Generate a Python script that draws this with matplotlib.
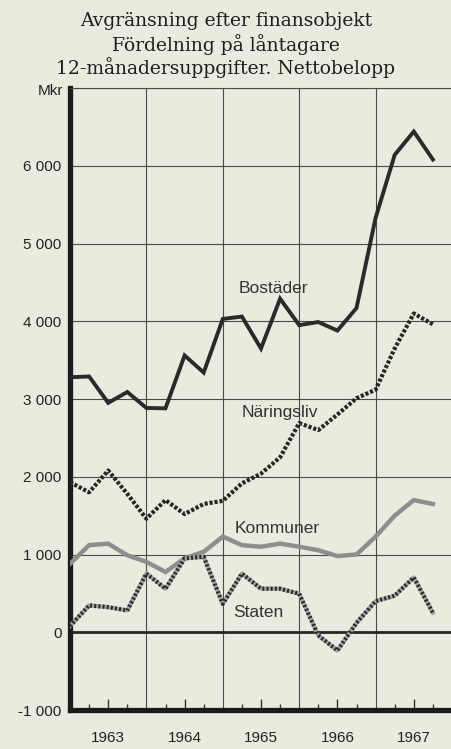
import matplotlib
matplotlib.use("Agg")
import matplotlib.pyplot as plt
from matplotlib.ticker import FuncFormatter

# kvartalsvärden (12-månaders summor), Mkr
kvartal = [1963.0, 1963.25, 1963.5, 1963.75, 1964.0, 1964.25, 1964.5, 1964.75,
           1965.0, 1965.25, 1965.5, 1965.75, 1966.0, 1966.25, 1966.5, 1966.75,
           1967.0, 1967.25, 1967.5, 1967.75]
bostader = [3280, 3290, 2950, 3090, 2885, 2880, 3560, 3340, 4030, 4060,
            3650, 4290, 3950, 3990, 3880, 4170, 5330, 6140, 6440, 6080]
naringsliv = [1930, 1800, 2080, 1780, 1460, 1700, 1520, 1650, 1690, 1915,
              2040, 2250, 2690, 2600, 2800, 3010, 3120, 3650, 4100, 3960]
kommuner = [880, 1120, 1140, 990, 905, 775, 950, 1035, 1230, 1120,
            1100, 1140, 1100, 1055, 980, 1000, 1230, 1500, 1700, 1650]
staten = [80, 345, 323, 280, 755, 560, 950, 970, 365, 755,
          560, 560, 495, -40, -235, 120, 400, 470, 705, 250]

ar = [1963, 1964, 1965, 1966, 1967]
ar_labels = ["1963", "1964", "1965", "1966", "1967"]
y_ticks = [-1000, 0, 1000, 2000, 3000, 4000, 5000, 6000]

paper = "#ebeadf"
ink = "#262626"

plt.rcParams["font.family"] = ["Liberation Sans", "DejaVu Sans"]

fig = plt.figure(figsize=(4.52, 7.49), dpi=100, facecolor=paper)
ax = fig.add_axes([70 / 452, 39 / 749, (452 - 70) / 452, (710 - 88) / 749])
ax.set_facecolor(paper)

ax.set_xlim(1963, 1968)
ax.set_ylim(-1000, 7000)

# rutnät
for a in ar[1:]:
    ax.axvline(a, color="#4a4a4a", lw=0.8, zorder=1)
for v in range(1000, 7001, 1000):
    ax.axhline(v, color="#4a4a4a", lw=0.8, zorder=1)
ax.axhline(0, color=ink, lw=2.0, zorder=2)

# serierna
ax.plot(kvartal, kommuner, color="#8e8e8e", lw=3.2, solid_joinstyle="miter", zorder=3)
ax.plot(kvartal, staten, color="#a0a0a0", lw=3.0, zorder=3)
ax.plot(kvartal, staten, color=ink, lw=3.0, linestyle=(0, (0.45, 0.55)), zorder=4)
ax.plot(kvartal, naringsliv, color=ink, lw=3.0, linestyle=(0, (0.75, 0.45)), zorder=4)
ax.plot(kvartal, bostader, color="#2a2a2a", lw=2.8, solid_joinstyle="miter", zorder=5)

# serienamn
etikett = dict(fontsize=12.5, color="#333333", ha="center", va="center", zorder=6)
ax.text(1965.66, 4420, "Bostäder", **etikett)
ax.text(1965.75, 2820, "Näringsliv", **etikett)
ax.text(1965.71, 1330, "Kommuner", **etikett)
ax.text(1965.47, 260, "Staten", **etikett)

# axlar
ax.spines["right"].set_visible(False)
ax.spines["top"].set_linewidth(0.8)
ax.spines["top"].set_color("#4a4a4a")
ax.spines["left"].set_linewidth(3.8)
ax.spines["left"].set_color("#1a1a1a")
ax.spines["bottom"].set_linewidth(3.8)
ax.spines["bottom"].set_color("#1a1a1a")

ax.set_yticks(y_ticks)
ax.yaxis.set_major_formatter(FuncFormatter(lambda v, p: f"{int(v):,}".replace(",", " ")))
ax.tick_params(axis="y", length=0, pad=6, labelsize=11, labelcolor="#222222")

ax.set_xticks([a + 0.5 for a in ar])
ax.set_xticklabels(ar_labels)
ax.set_xticks([a + q for a in ar for q in (0.25, 0.75)], minor=True)
ax.tick_params(axis="x", which="major", direction="in", length=8, width=1,
               color="#333333", pad=15, labelsize=11, labelcolor="#222222")
ax.tick_params(axis="x", which="minor", direction="in", length=4, width=1,
               color="#333333")

fig.text(63 / 452, 1 - 91 / 749, "Mkr", ha="right", va="center", fontsize=11,
         color="#222222")

# rubrik
rubrik = dict(ha="center", va="center", fontsize=13.5, family="DejaVu Serif",
              color="#1e1e1e")
fig.text(0.5, 1 - 21 / 749, "Avgränsning efter finansobjekt", **rubrik)
fig.text(0.5, 1 - 45 / 749, "Fördelning på låntagare", **rubrik)
fig.text(0.5, 1 - 68 / 749, "12-månadersuppgifter. Nettobelopp", **rubrik)

fig.savefig("out.png", dpi=100, facecolor=paper)
